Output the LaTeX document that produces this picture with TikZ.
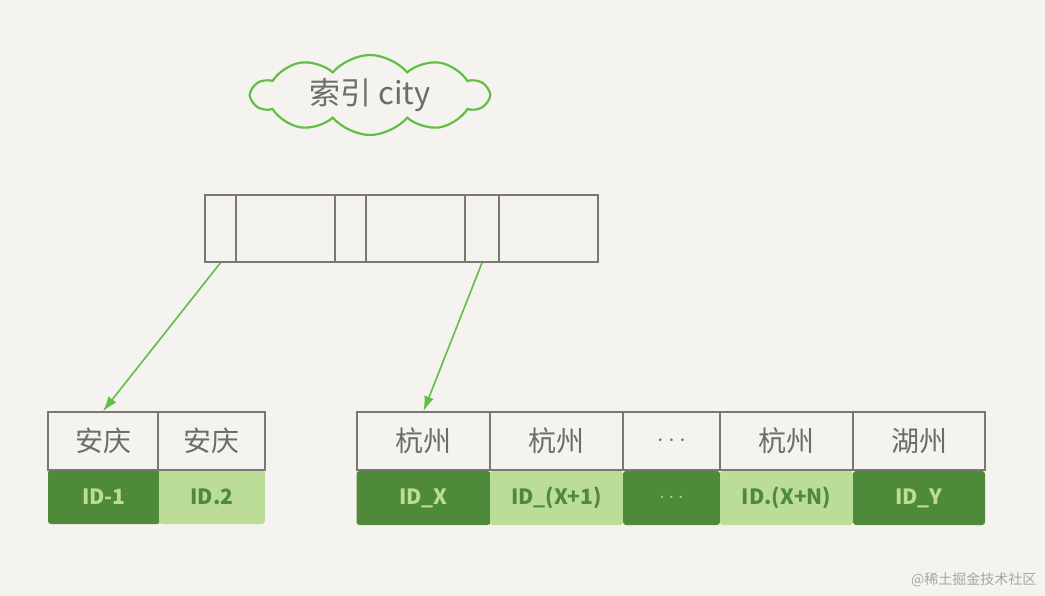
\documentclass[tikz,border=0pt]{standalone}
\usepackage{fontspec}
\setmainfont{Noto Sans CJK SC}
\usetikzlibrary{arrows.meta,shapes.symbols}

\definecolor{paper}{HTML}{F4F3EF}
\definecolor{linegray}{HTML}{7A7670}
\definecolor{textgray}{HTML}{6E6C68}
\definecolor{leafgreen}{HTML}{4E8A3A}
\definecolor{palegreen}{HTML}{BCDD97}
\definecolor{arrowgreen}{HTML}{62BE45}

\begin{document}
\begin{tikzpicture}[
  x=1pt,y=-1pt,
  idx/.style={draw=linegray,line width=1.5pt,minimum height=67pt,inner sep=0pt},
  key/.style={draw=linegray,line width=1.5pt,minimum height=58pt,inner sep=0pt,
    font=\fontsize{28}{30}\selectfont,text=textgray},
  iddark/.style={fill=leafgreen,rounded corners=3pt,minimum height=54pt,inner sep=0pt,
    font=\bfseries\fontsize{21}{23}\selectfont,text=palegreen},
  idpale/.style={fill=palegreen,rounded corners=3pt,minimum height=54pt,inner sep=0pt,
    font=\bfseries\fontsize{21}{23}\selectfont,text=leafgreen},
  link/.style={-{Latex[length=15pt,width=10pt]},arrowgreen,line width=1.6pt},
]

% Canvas
\fill[paper] (0,0) rectangle (1045,596);
\useasboundingbox (0,0) rectangle (1045,596);

% Index label
\node[cloud,cloud puffs=10,cloud puff arc=100,aspect=3.2,draw=arrowgreen,line width=2.2pt,
  minimum width=236pt,minimum height=80pt,text=textgray,
  font=\fontsize{31}{33}\selectfont] (title) at (370,95) {索引 city};

% Index page
\node[idx,minimum width=31pt] (c1) at (220.5,228.5) {};
\node[idx,minimum width=99pt] (c2) at (285.5,228.5) {};
\node[idx,minimum width=31pt] (c3) at (350.5,228.5) {};
\node[idx,minimum width=99pt] (c4) at (415.5,228.5) {};
\node[idx,minimum width=34pt] (c5) at (482,228.5) {};
\node[idx,minimum width=99pt] (c6) at (548.5,228.5) {};

% Left leaf
\node[iddark,minimum width=112pt] (a1id) at (104,497) {ID-1};
\node[idpale,minimum width=106pt] (a2id) at (212,497) {ID.2};
\node[key,minimum width=110pt] (a1) at (103,441) {安庆};
\node[key,minimum width=107pt] (a2) at (211.5,441) {安庆};

% Right leaf
\node[iddark,minimum width=134pt] (h1id) at (423.5,498) {ID\_X};
\node[idpale,minimum width=133pt] (h2id) at (556.5,498) {ID\_(X+1)};
\node[iddark,minimum width=97pt] (h3id) at (671.5,498) {$\cdots$};
\node[idpale,minimum width=133pt] (h4id) at (786.5,498) {ID.(X+N)};
\node[iddark,minimum width=132pt] (h5id) at (919,498) {ID\_Y};
\node[key,minimum width=133pt] (h1) at (423.5,441) {杭州};
\node[key,minimum width=133pt] (h2) at (556.5,441) {杭州};
\node[key,minimum width=97pt] (h3) at (671.5,441) {$\cdots$};
\node[key,minimum width=133pt] (h4) at (786.5,441) {杭州};
\node[key,minimum width=132pt] (h5) at (919,441) {湖州};

% Pointers
\draw[link] (c1.south) -- (a1.north);
\draw[link] (c5.south) -- (h1.north);

% Watermark
\node[text=black!35,font=\fontsize{14}{16}\selectfont,anchor=east] (mark) at (1040,580) {@稀土掘金技术社区};

\end{tikzpicture}
\end{document}
